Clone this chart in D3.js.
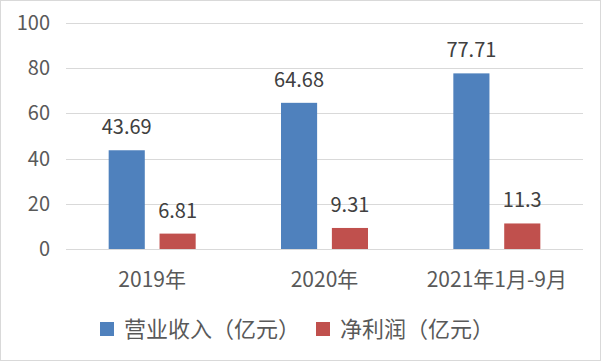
<!DOCTYPE html>
<html>
<head>
<meta charset="utf-8">
<script src="https://cdn.jsdelivr.net/npm/d3@7"></script>
<style>
  body { margin: 0; background: #fff; }
  svg { display: block; }
</style>
</head>
<body>
<div id="chart"></div>
<script>
(function(){
  const categories = ["2019年", "2020年", "2021年1月-9月"];
  const seriesNames = ["营业收入（亿元）", "净利润（亿元）"];
  const revenue = [43.69, 64.68, 77.71];
  const profit = [6.81, 9.31, 11.3];
  const yTicks = [0, 20, 40, 60, 80, 100];
  const colors = ["#4F81BD", "#C0504D"];

  const width = 602, height = 362;
  const margin = { top: 23, right: 19, bottom: 113, left: 66 };
  const font = "'Noto Sans CJK SC', 'Liberation Sans', sans-serif";

  const svg = d3.select("#chart")
    .append("svg")
    .attr("width", width)
    .attr("height", height);

  svg.append("rect")
    .attr("x", 0.5).attr("y", 0.5)
    .attr("width", width - 2).attr("height", height - 2)
    .attr("fill", "#fff")
    .attr("stroke", "#d9d9d9");

  const x = d3.scaleBand()
    .domain(categories)
    .range([margin.left, width - margin.right]);

  const x1 = d3.scaleBand()
    .domain([0, 1])
    .range([0, 87])
    .paddingInner(0.29);

  const y = d3.scaleLinear()
    .domain([0, 100])
    .range([height - margin.bottom, margin.top]);

  // grid lines
  svg.append("g")
    .selectAll("line")
    .data(yTicks)
    .join("line")
    .attr("x1", margin.left)
    .attr("x2", width - margin.right)
    .attr("y1", d => Math.round(y(d)) + 0.5)
    .attr("y2", d => Math.round(y(d)) + 0.5)
    .attr("stroke", "#d9d9d9");

  // y axis labels
  svg.append("g")
    .selectAll("text")
    .data(yTicks)
    .join("text")
    .attr("x", 50)
    .attr("y", d => y(d))
    .attr("dy", "0.35em")
    .attr("text-anchor", "end")
    .attr("font-family", font)
    .attr("font-size", "20px")
    .attr("fill", "#595959")
    .text(d => d);

  const rows = categories.map((c, i) => ({ cat: c, values: [revenue[i], profit[i]] }));

  const groups = svg.append("g")
    .selectAll("g")
    .data(rows)
    .join("g")
    .attr("transform", d => `translate(${x(d.cat) + x.bandwidth() / 2 - 43.5},0)`);

  groups.selectAll("rect")
    .data(d => d.values)
    .join("rect")
    .attr("x", (d, i) => x1(i))
    .attr("y", d => y(d))
    .attr("width", x1.bandwidth())
    .attr("height", d => y(0) - y(d))
    .attr("fill", (d, i) => colors[i]);

  groups.selectAll("text")
    .data(d => d.values)
    .join("text")
    .attr("x", (d, i) => x1(i) + x1.bandwidth() / 2)
    .attr("y", d => y(d) - 16)
    .attr("text-anchor", "middle")
    .attr("font-family", font)
    .attr("font-size", "20px")
    .attr("fill", "#404040")
    .text(d => d);

  // x labels
  svg.append("g")
    .selectAll("text")
    .data(categories)
    .join("text")
    .attr("x", d => x(d) + x.bandwidth() / 2)
    .attr("y", 287)
    .attr("text-anchor", "middle")
    .attr("font-family", font)
    .attr("font-size", "21px")
    .attr("fill", "#595959")
    .text(d => d);

  // legend
  const legendX = [100, 316];
  const legend = svg.append("g")
    .selectAll("g")
    .data(seriesNames)
    .join("g")
    .attr("transform", (d, i) => `translate(${legendX[i]},322)`);

  legend.append("rect")
    .attr("width", 14)
    .attr("height", 14)
    .attr("fill", (d, i) => colors[i]);

  legend.append("text")
    .attr("x", 24)
    .attr("y", 7)
    .attr("dy", "0.36em")
    .attr("font-family", font)
    .attr("font-size", "22px")
    .attr("fill", "#595959")
    .text(d => d);
})();
</script>
</body>
</html>
